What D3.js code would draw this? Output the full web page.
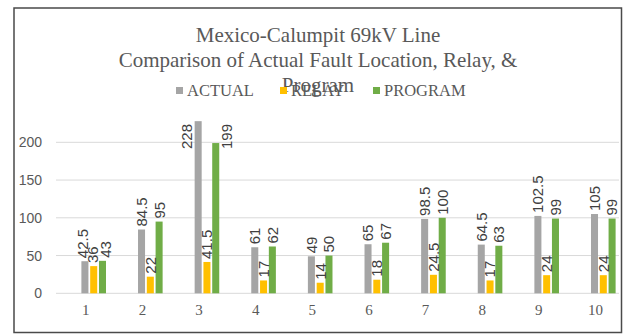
<!DOCTYPE html>
<html>
<head>
<meta charset="utf-8">
<script src="https://cdn.jsdelivr.net/npm/d3@7/dist/d3.min.js"></script>
<style>
  html, body { margin: 0; padding: 0; background: #fff; }
  svg { display: block; }
</style>
</head>
<body>
<svg id="chart" width="623" height="335"></svg>
<script>
// Fault location distances per test case
const categories = ["1", "2", "3", "4", "5", "6", "7", "8", "9", "10"];
const seriesNames = ["ACTUAL", "RELAY", "PROGRAM"];
const actual  = [42.5, 84.5, 228, 61, 49, 65, 98.5, 64.5, 102.5, 105];
const relay   = [36, 22, 41.5, 17, 14, 18, 24.5, 17, 24, 24];
const program = [43, 95, 199, 62, 50, 67, 100, 63, 99, 99];
const yTicks  = [0, 50, 100, 150, 200];
const titleLines = [
  "Mexico-Calumpit 69kV Line",
  "Comparison of Actual Fault Location, Relay, &",
  "Program"
];

const seriesValues = [actual, relay, program];
const colors = ["#A5A5A5", "#FFC000", "#70AD47"];

const svg = d3.select("#chart");
const W = 623, H = 335;

svg.append("rect").attr("width", W).attr("height", H).attr("fill", "#fff");

// outer frame
svg.append("rect")
  .attr("x", 14).attr("y", 8)
  .attr("width", 607.5).attr("height", 324.5)
  .attr("fill", "none").attr("stroke", "#4a4a4a").attr("stroke-width", 1.5);

const plotLeft = 56, plotRight = 619, plotTop = 122;

const y = d3.scaleLinear().domain([0, 250]).range([293.3, 104.55]);
const x = d3.scalePoint().domain(categories).range([93.7, 603.3]);
const inner = d3.scaleBand().domain(seriesNames).range([-12.3, 12.3]).paddingInner(0.2);

// horizontal gridlines
svg.append("g").selectAll("line").data(yTicks).join("line")
  .attr("x1", plotLeft).attr("x2", plotRight)
  .attr("y1", d => y(d)).attr("y2", d => y(d))
  .attr("stroke", "#D9D9D9").attr("stroke-width", 1);

// y axis labels
const yAxis = d3.axisLeft(y).tickValues(yTicks).tickSize(0).tickPadding(0);
const gy = svg.append("g").attr("transform", "translate(42,0)").call(yAxis);
gy.select(".domain").remove();
gy.selectAll("text")
  .attr("font-family", "'Liberation Sans', Arial, sans-serif")
  .attr("font-size", 14).attr("fill", "#595959");

// x axis labels
const xAxis = d3.axisBottom(x).tickSize(0).tickPadding(0);
const gx = svg.append("g").attr("transform", "translate(0,304)").call(xAxis);
gx.select(".domain").remove();
gx.selectAll("text")
  .attr("dx", -8.4)
  .attr("font-family", "'Liberation Serif', 'Times New Roman', serif")
  .attr("font-size", 15).attr("fill", "#595959");

// bars
const rows = [];
seriesNames.forEach((s, si) => {
  categories.forEach((c, ci) => {
    rows.push({ s, si, c, v: seriesValues[si][ci] });
  });
});

svg.append("g").selectAll("rect").data(rows).join("rect")
  .attr("x", d => x(d.c) + inner(d.s))
  .attr("width", inner.bandwidth())
  .attr("y", d => y(d.v))
  .attr("height", d => y(0) - y(d.v))
  .attr("fill", d => colors[d.si]);

// value labels, rotated; nudged beside the bar when they would run past the top,
// and spread apart sideways when neighbours in a group collide
const labelSize = 15;
const minGap = 12.5;
const lbl = svg.append("g")
  .attr("font-family", "'Liberation Sans', Arial, sans-serif")
  .attr("font-size", labelSize).attr("fill", "#404040");

const labels = rows.map(d => {
  const text = String(d.v);
  const len = text.length * labelSize * 0.556 - (text.includes(".") ? labelSize * 0.28 : 0);
  let cx = x(d.c) + inner(d.s) + inner.bandwidth() / 2;
  let start = y(d.v) - 3;
  let moved = false;
  if (start - len < plotTop) {
    start = plotTop + len + 2;
    cx += d.si === 0 ? -11.5 : 10.5;
    moved = true;
  }
  return { d, text, cx, start, end: start - len, moved };
});

categories.forEach(c => {
  const grp = labels.filter(l => l.d.c === c && !l.moved).sort((a, b) => a.d.si - b.d.si);
  for (let i = 0; i < grp.length - 1; i++) {
    const a = grp[i], b = grp[i + 1];
    const overlapY = a.end < b.start && b.end < a.start;
    const dist = b.cx - a.cx;
    if (overlapY && dist < minGap) {
      const push = (minGap - dist) / 2;
      a.cx -= push;
      b.cx += push;
    }
  }
});

labels.forEach(l => {
  lbl.append("text")
    .attr("transform", `translate(${l.cx},${l.start}) rotate(-90)`)
    .attr("dy", "0.36em")
    .attr("text-anchor", "start")
    .text(l.text);
});

// title
svg.append("g").selectAll("text").data(titleLines).join("text")
  .attr("x", 318).attr("y", (d, i) => 42 + i * 25)
  .attr("text-anchor", "middle")
  .attr("font-family", "'Liberation Serif', 'Times New Roman', serif")
  .attr("font-size", 21).attr("fill", "#595959")
  .text(d => d);

// legend
const legendX = [176, 280, 373];
const leg = svg.append("g").selectAll("g").data(seriesNames).join("g")
  .attr("transform", (d, i) => `translate(${legendX[i]},0)`);
leg.append("rect")
  .attr("x", 0).attr("y", 87).attr("width", 7).attr("height", 7)
  .attr("fill", (d, i) => colors[i]);
leg.append("text")
  .attr("x", 11).attr("y", 96)
  .attr("font-family", "'Liberation Serif', 'Times New Roman', serif")
  .attr("font-size", 16.5).attr("fill", "#595959")
  .text(d => d);
</script>
</body>
</html>
